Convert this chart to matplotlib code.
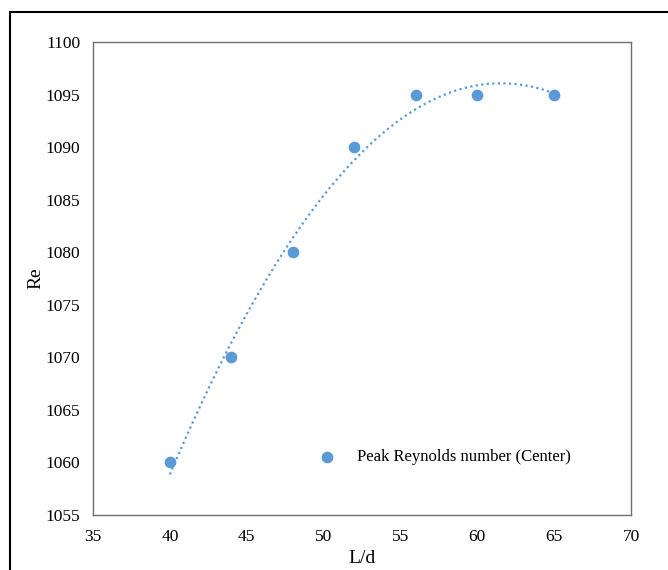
import numpy as np
import matplotlib
matplotlib.use("Agg")
import matplotlib.pyplot as plt
from matplotlib.patches import Rectangle

ld = [40, 44, 48, 52, 56, 60, 65]
re = [1060, 1070, 1080, 1090, 1095, 1095, 1095]
series_label = "Peak Reynolds number (Center)"
xticks = [35, 40, 45, 50, 55, 60, 65, 70]
yticks = [1055, 1060, 1065, 1070, 1075, 1080, 1085, 1090, 1095, 1100]

plt.rcParams['font.family'] = ['Liberation Serif', 'DejaVu Serif']
color = '#5B9BD5'

W, H = 668, 570
fig = plt.figure(figsize=(W/100, H/100), dpi=100)
ax = fig.add_axes([93/W, 1-515/H, (631-93)/W, (515-42)/H])

ax.scatter(ld, re, s=55, color=color, zorder=3, label=series_label)
coef = np.polyfit(ld, re, 2)
xs = np.linspace(min(ld), max(ld), 200)
ax.plot(xs, np.polyval(coef, xs), linestyle=(0, (1, 1.5)), color=color, linewidth=1.6)

ax.set_xlim(35, 70)
ax.set_ylim(1055, 1100)
ax.set_xticks(xticks)
ax.set_yticks(yticks)
ax.tick_params(length=0, labelsize=12.5)
ax.tick_params(axis='y', pad=9)
ax.tick_params(axis='x', pad=10)
for s in ax.spines.values():
    s.set_color('#6f6f6f')
    s.set_linewidth(1.0)
ax.set_xlabel('L/d', fontsize=14, labelpad=4)
ax.set_ylabel('Re', fontsize=14, labelpad=1)

leg = ax.legend(loc='center left', bbox_to_anchor=((319-93)/(631-93), (515-457)/(515-42)),
                frameon=False, fontsize=12, handletextpad=1.3, handlelength=1.0,
                borderpad=0, borderaxespad=0)

fig.patches.append(Rectangle((10/W, -0.1), 2, 1.1 - 12/H, transform=fig.transFigure,
                             fill=False, edgecolor='black', linewidth=1.5, figure=fig))
fig.savefig('out.png', dpi=100)
